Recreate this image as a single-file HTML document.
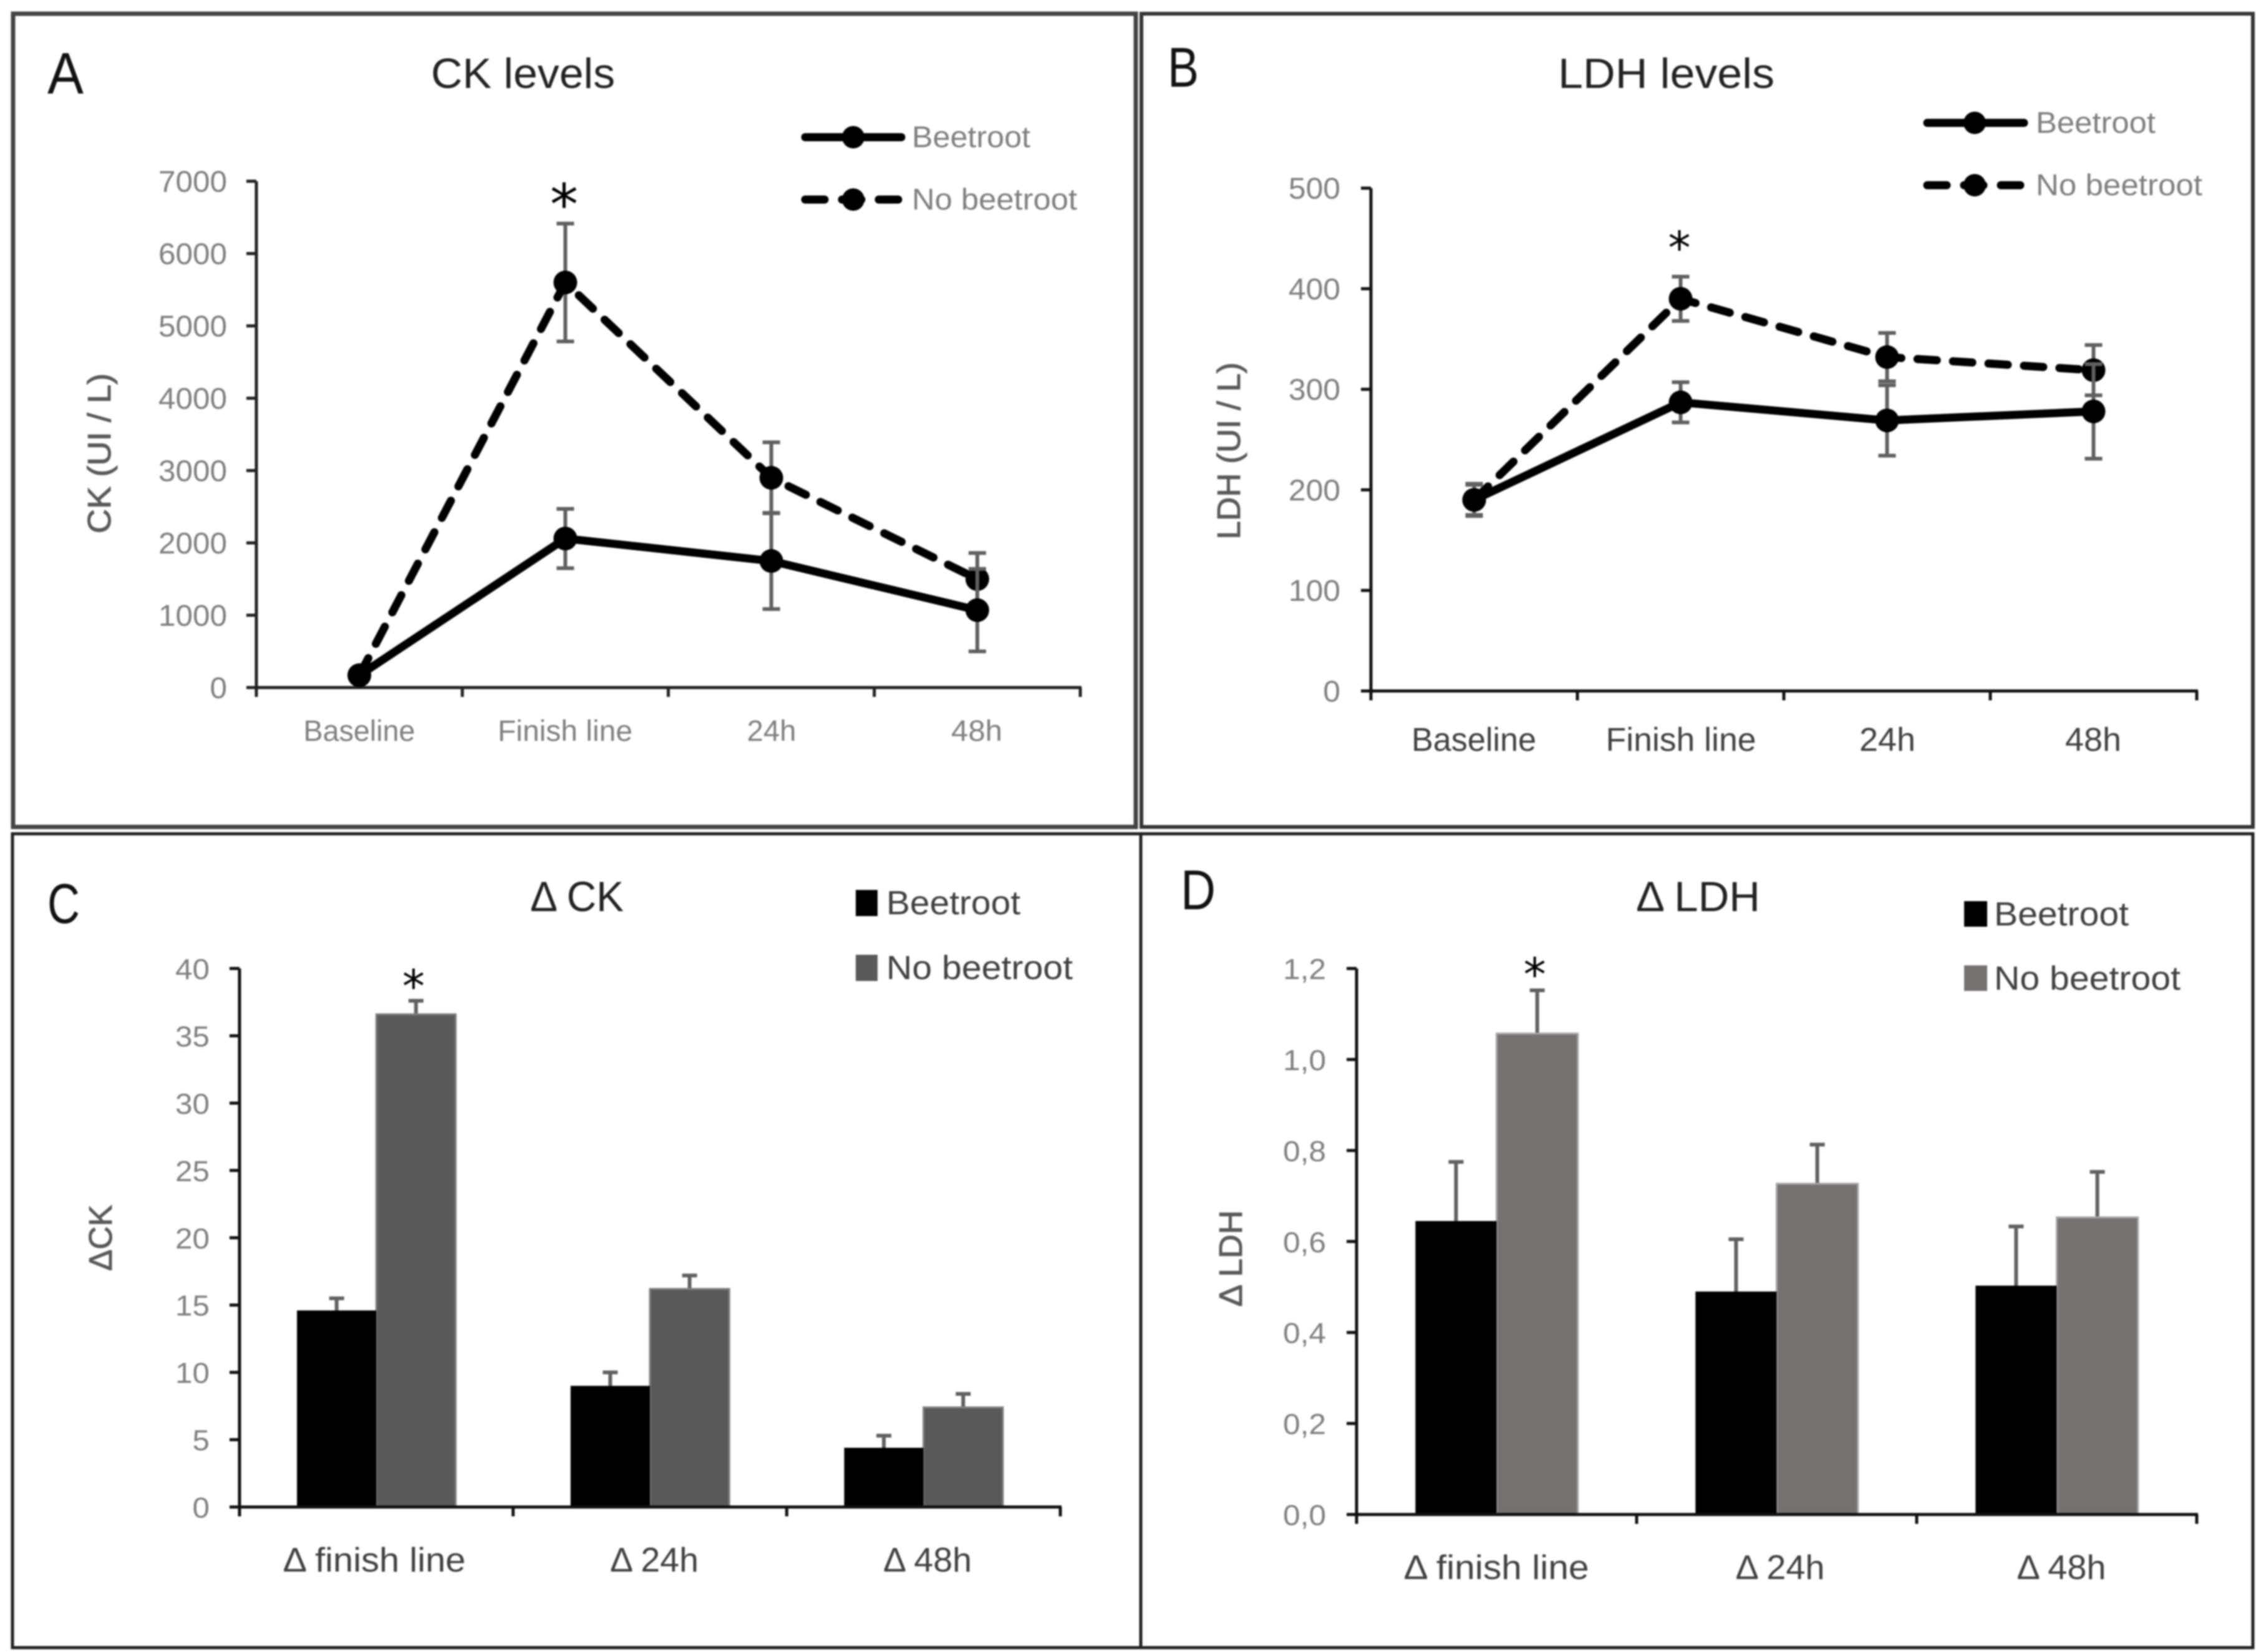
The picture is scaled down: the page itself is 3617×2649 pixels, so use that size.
<!DOCTYPE html>
<html lang="en">
<head>
<meta charset="utf-8">
<title>CK and LDH levels</title>
<style>
html,body{margin:0;padding:0;background:#fff;}
svg{display:block;width:3617px;height:2649px;filter:blur(1.4px);font-family:"Liberation Sans",sans-serif;}
.ytitle{stroke:#595959;stroke-width:1;}
</style>
</head>
<body>
<svg id="figure" xmlns="http://www.w3.org/2000/svg" width="3617" height="2649" viewBox="0 0 3617 2649">
  <rect width="3617" height="2649" fill="#fff"/>
  <g fill="none">
    <path d="M21 22H1821V1326H21Z" stroke="#444" stroke-width="7"/>
    <path d="M1830 22H3612V1326H1830Z" stroke="#333" stroke-width="6"/>
    <path d="M20 1337H1829V2642H20Z" stroke="#222" stroke-width="5"/>
    <path d="M1829 1337H3612V2642H1829Z" stroke="#222" stroke-width="5"/>
  </g>

  <text x="76" y="150" font-size="94" fill="#111" textLength="58" lengthAdjust="spacingAndGlyphs">A</text>
  <text x="1872" y="139" font-size="90" fill="#111" textLength="50" lengthAdjust="spacingAndGlyphs">B</text>
  <text x="76" y="1480" font-size="90" fill="#111" textLength="52" lengthAdjust="spacingAndGlyphs">C</text>
  <text x="1893" y="1458" font-size="90" fill="#111" textLength="56" lengthAdjust="spacingAndGlyphs">D</text>

  <text x="691" y="141" font-size="68" fill="#222" textLength="295" lengthAdjust="spacingAndGlyphs">CK levels</text>
  <text x="2498" y="141" font-size="68" fill="#222" textLength="347" lengthAdjust="spacingAndGlyphs">LDH levels</text>
  <text x="850" y="1461" font-size="68" fill="#222" textLength="150" lengthAdjust="spacingAndGlyphs">Δ CK</text>
  <text x="2623" y="1461" font-size="68" fill="#222" textLength="199" lengthAdjust="spacingAndGlyphs">Δ LDH</text>

  <text class="ytitle" transform="translate(177 727) rotate(-90)" text-anchor="middle" font-size="52" fill="#595959" textLength="257" lengthAdjust="spacingAndGlyphs">CK  (UI / L)</text>
  <text class="ytitle" transform="translate(1988 723) rotate(-90)" text-anchor="middle" font-size="52" fill="#595959" textLength="284" lengthAdjust="spacingAndGlyphs">LDH (UI / L)</text>
  <text class="ytitle" transform="translate(179 1985) rotate(-90)" text-anchor="middle" font-size="52" fill="#595959" textLength="106" lengthAdjust="spacingAndGlyphs">ΔCK</text>
  <text class="ytitle" transform="translate(1991 2018) rotate(-90)" text-anchor="middle" font-size="52" fill="#595959" textLength="155" lengthAdjust="spacingAndGlyphs">Δ LDH</text>

  <g>
    <g>
      <line x1="1291" y1="220" x2="1445" y2="220" stroke="#000" stroke-width="13" stroke-linecap="round"/>
      <circle cx="1368" cy="220" r="18" fill="#000"/>
      <text x="1462" y="236" font-size="48" fill="#7f7f7f" textLength="190" lengthAdjust="spacingAndGlyphs">Beetroot</text>
    </g>
    <g>
      <line x1="1291" y1="320" x2="1440" y2="320" stroke="#000" stroke-width="13" stroke-linecap="round" stroke-dasharray="31 28"/>
      <circle cx="1368" cy="320" r="18" fill="#000"/>
      <text x="1462" y="336" font-size="48" fill="#7f7f7f" textLength="265" lengthAdjust="spacingAndGlyphs">No beetroot</text>
    </g>
  </g>
  <g>
    <g>
      <line x1="3090" y1="197" x2="3245" y2="197" stroke="#000" stroke-width="13" stroke-linecap="round"/>
      <circle cx="3166" cy="197" r="18" fill="#000"/>
      <text x="3264" y="213" font-size="48" fill="#7f7f7f" textLength="192" lengthAdjust="spacingAndGlyphs">Beetroot</text>
    </g>
    <g>
      <line x1="3090" y1="297" x2="3240" y2="297" stroke="#000" stroke-width="13" stroke-linecap="round" stroke-dasharray="31 28"/>
      <circle cx="3166" cy="297" r="18" fill="#000"/>
      <text x="3264" y="313" font-size="48" fill="#7f7f7f" textLength="267" lengthAdjust="spacingAndGlyphs">No beetroot</text>
    </g>
  </g>
  <g>
    <g>
      <rect x="1372" y="1427" width="35" height="42" fill="#000"/>
      <text x="1421" y="1466" font-size="54" fill="#404040" textLength="215" lengthAdjust="spacingAndGlyphs">Beetroot</text>
    </g>
    <g>
      <rect x="1372" y="1531" width="35" height="42" fill="#595959"/>
      <text x="1421" y="1570" font-size="54" fill="#404040" textLength="299" lengthAdjust="spacingAndGlyphs">No beetroot</text>
    </g>
  </g>
  <g>
    <g>
      <rect x="3149" y="1445" width="37" height="41" fill="#000"/>
      <text x="3197" y="1484" font-size="54" fill="#404040" textLength="216" lengthAdjust="spacingAndGlyphs">Beetroot</text>
    </g>
    <g>
      <rect x="3149" y="1548" width="37" height="41" fill="#767171"/>
      <text x="3197" y="1587" font-size="54" fill="#404040" textLength="299" lengthAdjust="spacingAndGlyphs">No beetroot</text>
    </g>
  </g>
  <g id="charts"></g>
</svg>
<script>
// ---- Panel A: CK levels ----
const ckCategories = ['Baseline', 'Finish line', '24h', '48h'];
const ckBeetroot = [170, 2060, 1750, 1070];
const ckNoBeetroot = [170, 5600, 2900, 1500];
const ckBeetrootError = [80, 410, 665, 570];
const ckNoBeetrootError = [80, 815, 490, 360];
const ckTicks = [0, 1000, 2000, 3000, 4000, 5000, 6000, 7000];

// ---- Panel B: LDH levels ----
const ldhCategories = ['Baseline', 'Finish line', '24h', '48h'];
const ldhBeetroot = [190, 287, 269, 278];
const ldhNoBeetroot = [190, 390, 332, 319];
const ldhBeetrootError = [16, 20, 35, 47];
const ldhNoBeetrootError = [15, 22, 24, 25];
const ldhTicks = [0, 100, 200, 300, 400, 500];

// ---- Panel C: delta CK ----
const deltaCkCategories = ['Δ finish line', 'Δ 24h', 'Δ 48h'];
const deltaCkBeetroot = [14.6, 9.0, 4.4];
const deltaCkNoBeetroot = [36.6, 16.2, 7.4];
const deltaCkBeetrootError = [0.9, 1.0, 0.9];
const deltaCkNoBeetrootError = [1.0, 1.0, 1.0];
const deltaCkTicks = [0, 5, 10, 15, 20, 25, 30, 35, 40];

// ---- Panel D: delta LDH ----
const deltaLdhCategories = ['Δ finish line', 'Δ 24h', 'Δ 48h'];
const deltaLdhBeetroot = [0.645, 0.49, 0.503];
const deltaLdhNoBeetroot = [1.057, 0.727, 0.653];
const deltaLdhBeetrootError = [0.13, 0.115, 0.13];
const deltaLdhNoBeetrootError = [0.095, 0.086, 0.10];
const deltaLdhTicks = [0, 0.2, 0.4, 0.6, 0.8, 1.0, 1.2];

const SVG_NS = 'http://www.w3.org/2000/svg';
const charts = document.getElementById('charts');

function make(tag, attrs, parent, text) {
  const node = document.createElementNS(SVG_NS, tag);
  for (const key in attrs) node.setAttribute(key, attrs[key]);
  if (text !== undefined) node.textContent = text;
  parent.appendChild(node);
  return node;
}

function linearScale(domainMax, pixelZero, pixelMax) {
  return function (v) { return pixelZero + (v / domainMax) * (pixelMax - pixelZero); };
}

function bandScale(count, left, right) {
  const band = (right - left) / count;
  return function (i) { return left + band * (i + 0.5); };
}

function drawAxes(root, layout, categories, ticks, y, formatTick) {
  const axisGroup = make('g', {}, root);
  
  

  const yAxis = make('line', { x1: layout.left, x2: layout.left, y1: y(ticks[ticks.length - 1]), y2: layout.bottom + 15, stroke: layout.axisColor, 'stroke-width': 5 }, axisGroup);
  
  

  const xAxis = make('line', { x1: layout.left - 15, x2: layout.right + 2, y1: layout.bottom, y2: layout.bottom, stroke: layout.axisColor, 'stroke-width': 5 }, axisGroup);
  
  

  ticks.forEach(function (t) {
    const py = y(t);
    const mark = make('line', { x1: layout.left - 16, x2: layout.left, y1: py, y2: py, stroke: layout.axisColor, 'stroke-width': 5 }, axisGroup);
    
    
    const label = formatTick(t);
    const labelNode = make('text', { x: layout.tickRight, y: py + 17, 'text-anchor': 'end', 'font-size': layout.tickFont, fill: '#7f7f7f', textLength: label.length * layout.tickCharWidth, lengthAdjust: 'spacingAndGlyphs' }, axisGroup, label);
    
    
  });

  const band = (layout.right - layout.left) / categories.length;
  for (let i = 0; i <= categories.length; i++) {
    const px = layout.left + band * i;
    const mark = make('line', { x1: px, x2: px, y1: layout.bottom, y2: layout.bottom + 15, stroke: layout.axisColor, 'stroke-width': 5 }, axisGroup);
    
    
  }

  categories.forEach(function (c, i) {
    const labelNode = make('text', { x: layout.labelCenters[i], y: layout.labelBaseline, 'text-anchor': 'middle', 'font-size': layout.labelFont, fill: layout.labelColor, textLength: layout.labelWidths[i], lengthAdjust: 'spacingAndGlyphs' }, axisGroup, c);
    
    
  });
}

function drawErrorBar(root, px, yTop, yBottom, capWidth, bottomCap) {
  const g = make('g', { stroke: '#606060', 'stroke-width': 6, fill: 'none' }, root);
  
  
  make('line', { x1: px, x2: px, y1: yTop, y2: yBottom }, g);
  make('line', { x1: px - capWidth / 2, x2: px + capWidth / 2, y1: yTop, y2: yTop }, g);
  if (bottomCap) {
    make('line', { x1: px - capWidth / 2, x2: px + capWidth / 2, y1: yBottom, y2: yBottom }, g);
  }
}

function drawSeriesLine(root, name, values, errors, x, y, dashed) {
  const g = make('g', {}, root);
  
  
  const points = values.map(function (v, i) { return x(i) + ',' + y(v); }).join(' ');
  const attrs = { points: points, fill: 'none', stroke: '#000', 'stroke-width': 13, 'stroke-linejoin': 'round' };
  if (dashed) {
    attrs['stroke-dasharray'] = '31 26';
    attrs['stroke-linecap'] = 'round';
  }
  make('polyline', attrs, g);
  values.forEach(function (v, i) {
    drawErrorBar(g, x(i), y(v + errors[i]), y(v - errors[i]), 28, true);
  });
  values.forEach(function (v, i) {
    const dot = make('circle', { cx: x(i), cy: y(v), r: 19, fill: '#000' }, g);
    
    
  });
}

function drawStar(root, px, py, size) {
  const star = make('text', { x: px, y: py + size * 0.51, 'text-anchor': 'middle', 'font-size': size, fill: '#000', 'font-family': '"DejaVu Sans", sans-serif' }, root, '*');
  
  
}

function drawLinePanel(name, layout, categories, beet, noBeet, beetErr, noBeetErr, ticks) {
  const root = make('g', {}, charts);
  
  
  const y = linearScale(ticks[ticks.length - 1], layout.bottom, layout.top);
  const x = bandScale(categories.length, layout.left, layout.right);
  drawAxes(root, layout, categories, ticks, y, function (t) { return String(t); });
  drawSeriesLine(root, 'no-beetroot-series', noBeet, noBeetErr, x, y, true);
  drawSeriesLine(root, 'beetroot-series', beet, beetErr, x, y, false);
  drawStar(root, x(1) - 2, y(noBeet[1] + noBeetErr[1]) - layout.starGap, layout.starSize);
}

function drawBarPanel(name, layout, categories, beet, noBeet, beetErr, noBeetErr, ticks, formatTick) {
  const root = make('g', {}, charts);
  
  
  const y = linearScale(ticks[ticks.length - 1], layout.bottom, layout.top);
  const x = bandScale(categories.length, layout.left, layout.right);
  const barW = (layout.right - layout.left) / categories.length * layout.barShare;
  categories.forEach(function (c, i) {
    const px = x(i);
    drawErrorBar(root, px - barW / 2, y(beet[i] + beetErr[i]), y(beet[i]), 24, false);
    drawErrorBar(root, px + barW / 2, y(noBeet[i] + noBeetErr[i]), y(noBeet[i]), 24, false);
    const noBeetBar = make('rect', { x: px, y: y(noBeet[i]), width: barW, height: layout.bottom - y(noBeet[i]), fill: layout.barFill, stroke: layout.barEdge, 'stroke-width': 3 }, root);
    
    
    const beetBar = make('rect', { x: px - barW, y: y(beet[i]), width: barW, height: layout.bottom - y(beet[i]), fill: '#000' }, root);
    
    
  });
  drawAxes(root, layout, categories, ticks, y, formatTick);
  drawStar(root, x(0) + barW / 2 - 4, y(noBeet[0] + noBeetErr[0]) - layout.starGap, layout.starSize);
}

drawLinePanel('panel-a-ck-levels', {
  left: 411, right: 1732, top: 290.6, bottom: 1102.5, axisColor: '#222',
  tickRight: 364, tickFont: 48, tickCharWidth: 27.5,
  labelBaseline: 1188, labelFont: 47, labelColor: '#7f7f7f',
  labelCenters: [576, 906, 1237, 1566], labelWidths: [179, 216, 79, 82],
  starGap: 45, starSize: 90
}, ckCategories, ckBeetroot, ckNoBeetroot, ckBeetrootError, ckNoBeetrootError, ckTicks);

drawLinePanel('panel-b-ldh-levels', {
  left: 2198, right: 3522, top: 301.7, bottom: 1108, axisColor: '#111',
  tickRight: 2149, tickFont: 48, tickCharWidth: 27.7,
  labelBaseline: 1204, labelFont: 53, labelColor: '#404040',
  labelCenters: [2363, 2695, 3026, 3356], labelWidths: [200, 241, 90, 90],
  starGap: 58, starSize: 72
}, ldhCategories, ldhBeetroot, ldhNoBeetroot, ldhBeetrootError, ldhNoBeetrootError, ldhTicks);

drawBarPanel('panel-c-delta-ck', {
  left: 384, right: 1700, top: 1553, bottom: 2416.5, axisColor: '#111',
  tickRight: 336, tickFont: 46, tickCharWidth: 27.5,
  labelBaseline: 2520, labelFont: 55, labelColor: '#404040',
  labelCenters: [600, 1049, 1487], labelWidths: [293, 142, 142],
  barShare: 0.29, barFill: '#595959', barEdge: '#808080',
  starGap: 35, starSize: 72
}, deltaCkCategories, deltaCkBeetroot, deltaCkNoBeetroot, deltaCkBeetrootError, deltaCkNoBeetrootError, deltaCkTicks, function (t) { return String(t); });

drawBarPanel('panel-d-delta-ldh', {
  left: 2175, right: 3522, top: 1553, bottom: 2428.5, axisColor: '#111',
  tickRight: 2126, tickFont: 46, tickCharWidth: 23,
  labelBaseline: 2532, labelFont: 55, labelColor: '#404040',
  labelCenters: [2399, 2854, 3305], labelWidths: [297, 143, 143],
  barShare: 0.29, barFill: '#767171', barEdge: '#a6a6a6',
  starGap: 37, starSize: 72
}, deltaLdhCategories, deltaLdhBeetroot, deltaLdhNoBeetroot, deltaLdhBeetrootError, deltaLdhNoBeetrootError, deltaLdhTicks, function (t) { return t.toFixed(1).replace('.', ','); });
</script>
</body>
</html>
